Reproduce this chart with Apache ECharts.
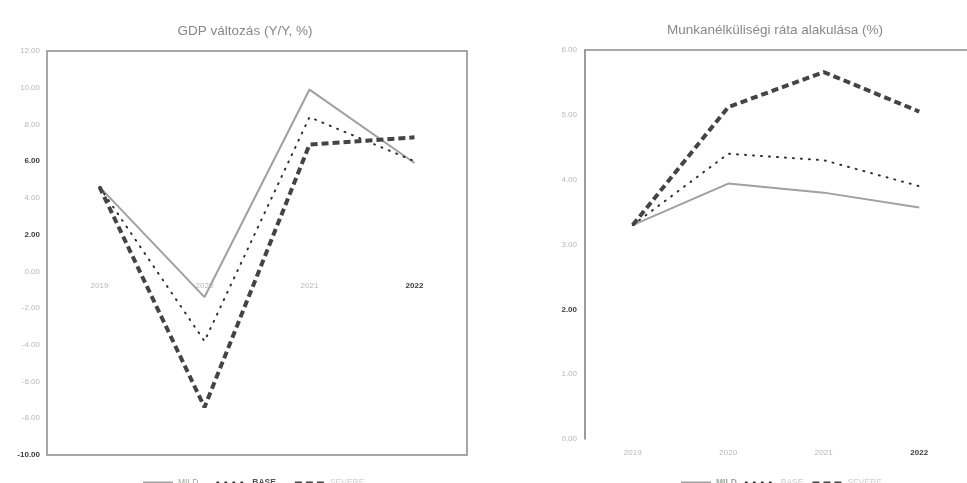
<!DOCTYPE html>
<html><head><meta charset="utf-8">
<script src="https://cdn.jsdelivr.net/npm/echarts@6/dist/echarts.min.js"></script>
<style>html,body{margin:0;padding:0;background:#fff}#c{width:967px;height:483px}</style>
</head><body><div id="c"></div>
<script>
const years = ['2019', '2020', '2021', '2022'];
const gdpMild = [4.6, -1.4, 9.9, 5.9];
const gdpBase = [4.6, -3.8, 8.4, 6.0];
const gdpSevere = [4.6, -7.4, 6.9, 7.3];
const unMild = [3.3, 3.94, 3.8, 3.57];
const unBase = [3.3, 4.4, 4.3, 3.9];
const unSevere = [3.3, 5.12, 5.66, 5.05];
const titles = ['GDP változás (Y/Y, %)', 'Munkanélküliségi ráta alakulása (%)'];
const seriesNames = ['MILD', 'BASE', 'SEVERE'];

const FONT = '"Liberation Sans", "DejaVu Sans", sans-serif';
const faint = '#b8b8b8';
const dark = '#3a3a3a';
const boldLeft = [6, 2, -10];
const boldRight = [2];

function yFmt(bold) {
  return function (v) {
    const s = v.toFixed(2);
    return bold.indexOf(v) >= 0 ? '{b|' + s + '}' : '{n|' + s + '}';
  };
}
function xFmt(v) { return v === '2022' ? '{b|' + v + '}' : '{n|' + v + '}'; }
const rich = {
  n: { color: faint, fontSize: 8, fontFamily: FONT },
  b: { color: dark, fontSize: 8, fontWeight: 'bold', fontFamily: FONT }
};
const styles = {
  MILD: { color: '#a0a0a0', width: 2, type: 'solid' },
  BASE: { color: '#2f2f2f', width: 2, type: [1, 7], cap: 'round' },
  SEVERE: { color: '#444444', width: 4, type: [7, 4] }
};
function mk(name, data, idx) {
  return {
    name: name, type: 'line', data: data, xAxisIndex: idx, yAxisIndex: idx,
    symbol: 'none', smooth: false, lineStyle: styles[name],
    itemStyle: { color: styles[name].color }, z: name === 'MILD' ? 2 : 3
  };
}
const legendItem = { opacity: 0 };

const chart = echarts.init(document.getElementById('c'));
chart.setOption({
  animation: false,
  backgroundColor: '#fff',
  title: [
    { text: titles[0], left: 240, top: 19, textAlign: 'center',
      textStyle: { fontSize: 13.5, fontWeight: 'normal', color: '#888', fontFamily: FONT } },
    { text: titles[1], left: 770, top: 18, textAlign: 'center',
      textStyle: { fontSize: 13.5, fontWeight: 'normal', color: '#888', fontFamily: FONT } }
  ],
  legend: [
    { left: 137, top: 473, itemWidth: 30, itemHeight: 8, itemGap: 18, itemStyle: legendItem,
      data: [
        { name: 'MILD', textStyle: { color: '#9aa89a' } },
        { name: 'BASE', textStyle: { color: '#555', fontWeight: 'bold' } },
        { name: 'SEVERE', textStyle: { color: '#cfcfcf' } }
      ],
      textStyle: { fontSize: 8.5, fontFamily: FONT } },
    { left: 675, top: 473, itemWidth: 30, itemHeight: 8, itemGap: 8, itemStyle: legendItem,
      data: [
        { name: 'MILD', textStyle: { color: '#9aa89a', fontWeight: 'bold' } },
        { name: 'BASE', textStyle: { color: '#c8c8c8' } },
        { name: 'SEVERE', textStyle: { color: '#cfcfcf' } }
      ],
      textStyle: { fontSize: 8.5, fontFamily: FONT } }
  ],
  grid: [
    { left: 47, right: 500, top: 51, bottom: 28, show: true, borderColor: '#8a8a8a', borderWidth: 1.5 },
    { left: 585, right: -12, top: 50, bottom: 44 }
  ],
  xAxis: [
    { type: 'category', gridIndex: 0, data: years, boundaryGap: true, offset: -182,
      axisLine: { show: false, onZero: false }, axisTick: { show: false },
      axisLabel: { formatter: xFmt, rich: rich, margin: 9 } },
    { type: 'category', gridIndex: 1, data: years, boundaryGap: true,
      axisLine: { show: false }, axisTick: { show: false },
      axisLabel: { formatter: xFmt, rich: rich, margin: 10 } },
    { type: 'category', gridIndex: 1, data: years, position: 'top', boundaryGap: true,
      axisLine: { show: true, onZero: false, lineStyle: { color: '#8a8a8a', width: 1.5 } },
      axisTick: { show: false }, axisLabel: { show: false } }
  ],
  yAxis: [
    { type: 'value', gridIndex: 0, min: -10, max: 12, interval: 2,
      splitLine: { show: false }, axisLine: { show: false }, axisTick: { show: false },
      axisLabel: { formatter: yFmt(boldLeft), rich: rich, margin: 7 } },
    { type: 'value', gridIndex: 1, min: 0, max: 6, interval: 1,
      splitLine: { show: false },
      axisLine: { show: true, lineStyle: { color: '#7a7a7a', width: 1.5 } },
      axisTick: { show: false },
      axisLabel: { formatter: yFmt(boldRight), rich: rich, margin: 8 } }
  ],
  series: [
    mk('MILD', gdpMild, 0), mk('BASE', gdpBase, 0), mk('SEVERE', gdpSevere, 0),
    mk('MILD', unMild, 1), mk('BASE', unBase, 1), mk('SEVERE', unSevere, 1)
  ]
});
</script></body></html>
